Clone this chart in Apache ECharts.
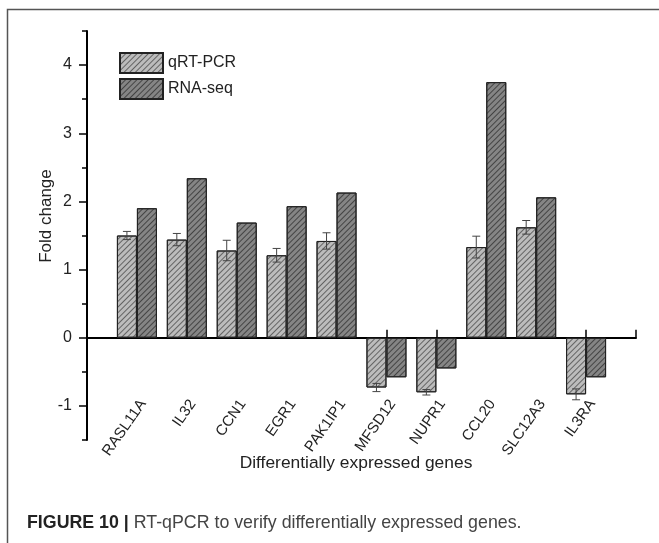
<!DOCTYPE html>
<html>
<head>
<meta charset="utf-8">
<script src="https://cdn.jsdelivr.net/npm/echarts@6/dist/echarts.min.js"></script>
<style>
  html, body { margin: 0; padding: 0; background: #fff; }
  #chart { width: 659px; height: 543px; }
</style>
</head>
<body>
<div id="chart"></div>
<script>
// genes on the x axis
var genes = ['RASL11A', 'IL32', 'CCN1', 'EGR1', 'PAK1IP1', 'MFSD12', 'NUPR1', 'CCL20', 'SLC12A3', 'IL3RA'];
// fold change
var qpcr = [1.50, 1.44, 1.28, 1.21, 1.42, -0.73, -0.80, 1.33, 1.62, -0.83];
var qpcrErr = [0.06, 0.09, 0.15, 0.10, 0.12, 0.06, 0.04, 0.16, 0.10, 0.08];
var rnaseq = [1.90, 2.34, 1.69, 1.93, 2.13, -0.58, -0.45, 3.75, 2.06, -0.58];
var yTicks = [-1, 0, 1, 2, 3, 4];

var BAR_W = 20;
var FONT = '"Liberation Sans", Arial, sans-serif';

var myChart = echarts.init(document.getElementById('chart'));

function hatch(col) {
  return {
    symbol: 'rect',
    symbolSize: 1,
    dashArrayX: [1, 0],
    dashArrayY: [1, 3],
    rotation: -Math.PI / 4,
    color: col
  };
}

// error bars on the qRT-PCR bars
function renderErr(params, api) {
  var x = api.value(0), y = api.value(1), e = api.value(2);
  var hi = api.coord([x, y + e]);
  var lo = api.coord([x, y - e]);
  var cx = hi[0] - BAR_W / 2;
  var st = { stroke: '#444', lineWidth: 1 };
  return {
    type: 'group',
    children: [
      { type: 'line', shape: { x1: cx, y1: hi[1], x2: cx, y2: lo[1] }, style: st },
      { type: 'line', shape: { x1: cx - 4, y1: hi[1], x2: cx + 4, y2: hi[1] }, style: st },
      { type: 'line', shape: { x1: cx - 4, y1: lo[1], x2: cx + 4, y2: lo[1] }, style: st }
    ]
  };
}

var u = 409 / 6; // px per unit on the y axis

var option = {
  backgroundColor: '#fff',
  animation: false,
  textStyle: { fontFamily: FONT },
  legend: {
    data: ['qRT-PCR', 'RNA-seq'],
    orient: 'vertical',
    left: 119,
    top: 52,
    padding: 0,
    itemWidth: 43,
    itemHeight: 20,
    itemGap: 4,
    icon: 'rect',
    textStyle: { fontSize: 16, color: '#222', fontFamily: FONT }
  },
  grid: [
    { left: 87, right: 23, top: 31, bottom: 103 },
    { left: 87, right: 23, top: 31 + 0.5 * u, bottom: 103 + 0.5 * u }
  ],
  xAxis: [
    {
      // labels only
      type: 'value', gridIndex: 0, min: 0, max: 11, interval: 1,
      position: 'bottom', offset: -51,
      axisLine: { show: false, onZero: false },
      axisTick: { show: false },
      splitLine: { show: false },
      axisLabel: {
        rotate: 55, margin: 8, fontSize: 15, color: '#222', fontFamily: FONT,
        verticalAlign: 'top',
        formatter: function (v) { return genes[v - 1] || ''; }
      }
    },
    {
      // the zero line
      type: 'value', gridIndex: 0, min: 0, max: 11, interval: 1,
      position: 'bottom',
      axisLine: { show: true, onZero: true, lineStyle: { color: '#000', width: 2 } },
      axisTick: { show: true, inside: true, length: 8, lineStyle: { color: '#000', width: 1.5 } },
      axisLabel: { show: false },
      splitLine: { show: false }
    },
    {
      type: 'value', gridIndex: 1, min: 0, max: 11, show: false
    }
  ],
  yAxis: [
    {
      type: 'value', gridIndex: 0, min: -1.5, max: 4.5, interval: 0.5,
      axisLine: { show: true, onZero: false, lineStyle: { color: '#000', width: 2 } },
      axisTick: { show: true, length: 5, lineStyle: { color: '#000', width: 1.5 } },
      axisLabel: { show: false },
      splitLine: { show: false }
    },
    {
      type: 'value', gridIndex: 1, min: yTicks[0], max: yTicks[yTicks.length - 1], interval: 1,
      axisLine: { show: false },
      axisTick: { show: true, length: 8, lineStyle: { color: '#000', width: 1.5 } },
      axisLabel: { margin: 15, fontSize: 16, color: '#222', fontFamily: FONT },
      splitLine: { show: false }
    }
  ],
  graphic: [
    {
      type: 'rect', silent: true,
      shape: { x: 7.5, y: 9.5, width: 700, height: 600 },
      style: { fill: 'none', stroke: '#555', lineWidth: 1.5 }
    },
    {
      type: 'text', x: 46, y: 216, rotation: Math.PI / 2,
      style: { text: 'Fold change', fontSize: 17, fontFamily: FONT, fill: '#222', align: 'center', verticalAlign: 'middle' }
    },
    {
      type: 'text', x: 356, y: 463,
      style: { text: 'Differentially expressed genes', fontSize: 17.4, fontFamily: FONT, fill: '#222', align: 'center', verticalAlign: 'middle' }
    },
    {
      type: 'text', x: 27, y: 523,
      style: {
        text: '{b|FIGURE 10 |} RT-qPCR to verify differentially expressed genes.',
        fontSize: 17.8, fontFamily: FONT, fill: '#444', verticalAlign: 'middle',
        rich: { b: { fontWeight: 'bold', fontSize: 17.8, fontFamily: FONT, fill: '#222' } }
      }
    }
  ],
  series: [
    {
      name: 'qRT-PCR', type: 'bar', xAxisIndex: 0, yAxisIndex: 0,
      barWidth: BAR_W, barGap: 0,
      itemStyle: { color: '#bcbcbc', borderColor: '#222', borderWidth: 1, decal: hatch('rgba(70,70,70,0.75)') },
      data: qpcr.map(function (v, i) { return [i + 1, v]; })
    },
    {
      name: 'RNA-seq', type: 'bar', xAxisIndex: 0, yAxisIndex: 0,
      barWidth: BAR_W, barGap: 0,
      itemStyle: { color: '#858585', borderColor: '#222', borderWidth: 1, decal: hatch('rgba(40,40,40,0.7)') },
      data: rnaseq.map(function (v, i) { return [i + 1, v]; })
    },
    {
      name: 'err', type: 'custom', xAxisIndex: 0, yAxisIndex: 0, z: 5,
      renderItem: renderErr,
      data: qpcr.map(function (v, i) { return [i + 1, v, qpcrErr[i]]; })
    }
  ]
};

myChart.setOption(option);
</script>
</body>
</html>
